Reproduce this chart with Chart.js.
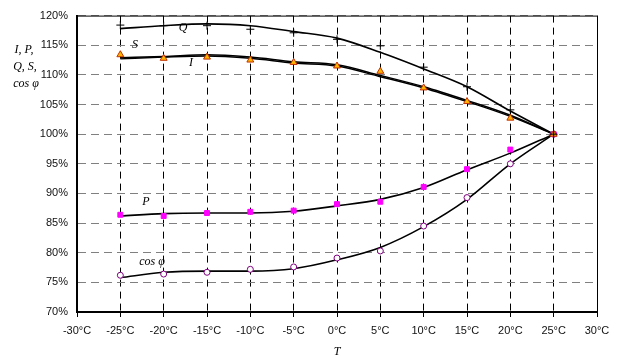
<!DOCTYPE html>
<html>
<head>
<meta charset="utf-8">
<script src="https://cdn.jsdelivr.net/npm/chart.js@4"></script>
<style>
html, body { margin: 0; padding: 0; background: #fff; }
</style>
</head>
<body>
<canvas id="myChart" width="619" height="358"></canvas>
<script>
/* data */
var temps = [-25, -20, -15, -10, -5, 0, 5, 10, 15, 20, 25];
var xTicks = [-30, -25, -20, -15, -10, -5, 0, 5, 10, 15, 20, 25, 30];

// measured points (markers)
var qPoints   = [118.4, 118.3, 118.3, 117.7, 117.1, 116.0, 114.9, 111.3, 108.0, 104.1, 100];
var sPoints   = [113.4, 112.8, 113.0, 112.5, 112.1, 111.5, 110.6, 107.8, 105.5, 102.7, 100];
var pPoints   = [86.4, 86.2, 86.7, 86.9, 87.1, 88.2, 88.6, 91.1, 94.1, 97.4, 100];
var cosPoints = [76.2, 76.4, 76.7, 77.2, 77.6, 79.1, 80.3, 84.5, 89.3, 95.0, 100];

// trend lines
var qLine   = [117.8, 118.3, 118.6, 118.3, 117.3, 116.2, 113.8, 111.0, 108.0, 103.9, 100];
var sLine   = [112.9, 113.1, 113.4, 113.0, 112.2, 111.7, 109.9, 108.0, 105.7, 103.2, 100];
var iLine   = [112.7, 113.0, 113.2, 112.8, 112.0, 111.5, 109.7, 107.8, 105.5, 103.0, 100];
var pLine   = [86.2, 86.6, 86.7, 86.7, 87.0, 87.9, 89.0, 91.0, 94.0, 96.8, 100];
var cosLine = [75.8, 76.7, 76.9, 76.9, 77.3, 78.8, 80.9, 84.4, 89.0, 95.0, 100];

function pts(vals){
    var out = [];
    for (var i = 0; i < temps.length; i++){
        out.push({x: temps[i], y: vals[i]});
    }
    return out;
}

function trend(vals, w){
    return {
        data: pts(vals),
        borderColor: '#000',
        borderWidth: w,
        pointRadius: 0,
        fill: false,
        cubicInterpolationMode: 'monotone',
        order: 5
    };
}

function marks(vals, style, fill, stroke, r){
    return {
        data: pts(vals),
        showLine: false,
        pointStyle: style,
        pointRadius: r,
        pointBackgroundColor: fill,
        pointBorderColor: stroke,
        pointBorderWidth: 1,
        order: 1
    };
}

/* frame + hand labels */
var labelsPlugin = {
    id: 'labels',
    afterDraw: function(chart){
        var c = chart.ctx;
        var a = chart.chartArea;
        c.save();
        c.strokeStyle = '#000';
        c.lineWidth = 1;
        c.beginPath();
        c.moveTo(a.left, a.top + 0.5);
        c.lineTo(a.right + 0.5, a.top + 0.5);
        c.lineTo(a.right + 0.5, a.bottom);
        c.stroke();

        c.fillStyle = '#000';
        c.textAlign = 'center';
        c.textBaseline = 'middle';
        c.font = 'italic 12px "Liberation Serif", serif';
        c.fillText('I, P,', 24, 50);
        c.fillText('Q, S,', 25, 67);
        c.fillText('cos \u03C6', 26, 84);

        c.fillText('Q', 183, 28);
        c.fillText('S', 135, 45);
        c.fillText('I', 191, 63);
        c.fillText('P', 146, 202);
        c.fillText('cos \u03C6', 152, 262);
        c.fillText('T', 337, 352);
        c.restore();
    }
};

const ctx = document.getElementById('myChart');
new Chart(ctx, {
    type: 'line',
    data: {
        datasets: [
            trend(qLine, 1.6),
            trend(sLine, 1.5),
            trend(iLine, 1.5),
            trend(pLine, 1.6),
            trend(cosLine, 1.6),
            marks(qPoints, 'cross', '#000', '#000', 4),
            marks(sPoints, 'triangle', '#FFB400', '#C03000', 4),
            marks(pPoints, 'rect', '#FF00FF', '#FF00FF', 3.5),
            marks(cosPoints, 'circle', '#fff', '#800080', 3)
        ]
    },
    options: {
        responsive: false,
        animation: false,
        layout: { padding: { top: 13, right: 22, left: 0, bottom: 0 } },
        plugins: {
            legend: { display: false },
            tooltip: { enabled: false }
        },
        scales: {
            x: {
                type: 'linear',
                min: -30,
                max: 30,
                afterBuildTicks: function(scale){
                    scale.ticks = xTicks.map(function(v){ return {value: v}; });
                },
                afterFit: function(scale){ scale.height = 46; },
                ticks: {
                    color: '#111',
                    padding: 7,
                    maxRotation: 0,
                    font: { family: '"Liberation Sans", Arial, sans-serif', size: 11 },
                    callback: function(v){ return v + '\u00B0C'; }
                },
                grid: {
                    color: '#000',
                    lineWidth: 1,
                    tickLength: 5,
                    tickColor: '#000',
                    tickBorderDash: []
                },
                border: { display: true, color: '#000', width: 2, dash: [7, 5] }
            },
            y: {
                min: 70,
                max: 120,
                afterFit: function(scale){ scale.width = 77; },
                ticks: {
                    stepSize: 5,
                    color: '#111',
                    padding: 9,
                    font: { family: '"Liberation Sans", Arial, sans-serif', size: 11 },
                    callback: function(v){ return v + '%'; }
                },
                grid: {
                    color: '#808080',
                    lineWidth: 1,
                    drawTicks: false,
                    tickLength: 0
                },
                border: { display: true, color: '#000', width: 2, dash: [8, 5] }
            }
        }
    },
    plugins: [labelsPlugin]
});
</script>
</body>
</html>
